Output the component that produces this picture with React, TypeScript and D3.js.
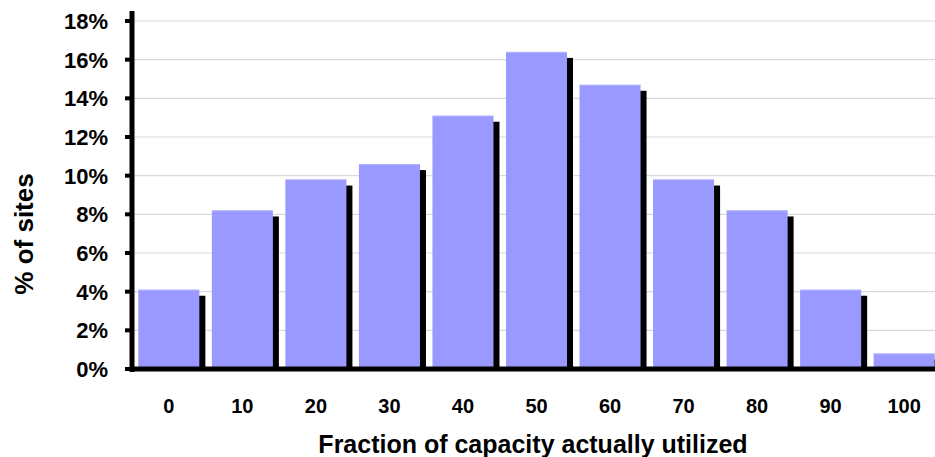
import React, { useRef, useEffect } from 'react';
import * as d3 from 'd3';

// Distribution of sites by fraction of capacity used
const buckets: string[] = ['0', '10', '20', '30', '40', '50', '60', '70', '80', '90', '100'];
const sitePercent: number[] = [4.1, 8.2, 9.8, 10.6, 13.1, 16.4, 14.7, 9.8, 8.2, 4.1, 0.8];
const yTicks: number[] = [0, 2, 4, 6, 8, 10, 12, 14, 16, 18];

const width = 935;
const height = 457;
const margin = { top: 21, right: -6, bottom: 88, left: 132 };
const FONT = '"Liberation Sans", Arial, Helvetica, sans-serif';

const Chart: React.FC = () => {
	const chartRef = useRef<null | SVGSVGElement>(null);

	useEffect(() => {
		if (!chartRef.current) {
			return;
		}
		const root = d3.select(chartRef.current);
		root.selectAll('*').remove();

		const plotBottom = height - margin.bottom;
		const x = d3.scaleBand<string>()
			.domain(buckets)
			.range([margin.left, width - margin.right])
			.paddingInner(0.17)
			.paddingOuter(0.086);
		const y = d3.scaleLinear().domain([0, 18]).range([plotBottom, margin.top]);

		// gridlines
		root.append('g')
			.selectAll('line')
			.data(yTicks.filter(d => d > 0))
			.join('line')
			.attr('x1', margin.left)
			.attr('x2', width)
			.attr('y1', d => y(d))
			.attr('y2', d => y(d))
			.attr('stroke', '#d9d9d9')
			.attr('stroke-width', 1.2);

		const data = buckets.map((b, i) => ({ b, v: sitePercent[i] }));

		// shadows
		root.append('g')
			.selectAll('rect')
			.data(data)
			.join('rect')
			.attr('x', d => x(d.b)! + 6)
			.attr('y', d => y(d.v) + 6)
			.attr('width', x.bandwidth())
			.attr('height', d => Math.max(0, plotBottom - y(d.v) - 6))
			.attr('fill', '#000');

		// bars
		root.append('g')
			.selectAll('rect')
			.data(data)
			.join('rect')
			.attr('x', d => x(d.b)!)
			.attr('y', d => y(d.v))
			.attr('width', x.bandwidth())
			.attr('height', d => plotBottom - y(d.v))
			.attr('fill', '#9999ff');

		// bar top highlight
		root.append('g')
			.selectAll('line')
			.data(data)
			.join('line')
			.attr('x1', d => x(d.b)!)
			.attr('x2', d => x(d.b)! + x.bandwidth())
			.attr('y1', d => y(d.v) + 0.5)
			.attr('y2', d => y(d.v) + 0.5)
			.attr('stroke', '#b3b3ff')
			.attr('stroke-width', 1);

		// y axis
		const yAxis = root.append('g');
		yAxis.append('line')
			.attr('x1', margin.left)
			.attr('x2', margin.left)
			.attr('y1', 11)
			.attr('y2', plotBottom + 3)
			.attr('stroke', '#000')
			.attr('stroke-width', 5);
		yAxis.selectAll('line.tick')
			.data(yTicks)
			.join('line')
			.attr('class', 'tick')
			.attr('x1', margin.left - 7)
			.attr('x2', margin.left)
			.attr('y1', d => y(d))
			.attr('y2', d => y(d))
			.attr('stroke', '#000')
			.attr('stroke-width', 4);
		yAxis.selectAll('text')
			.data(yTicks)
			.join('text')
			.attr('x', 108)
			.attr('y', d => y(d) + 8)
			.attr('text-anchor', 'end')
			.style('font-family', FONT)
			.style('font-weight', 'bold')
			.style('font-size', '22px')
			.text(d => `${d}%`);

		// x axis
		root.append('line')
			.attr('x1', margin.left - 2)
			.attr('x2', width)
			.attr('y1', plotBottom)
			.attr('y2', plotBottom)
			.attr('stroke', '#000')
			.attr('stroke-width', 5);
		root.append('g')
			.selectAll('text')
			.data(buckets)
			.join('text')
			.attr('x', d => x(d)! + x.bandwidth() / 2)
			.attr('y', 413)
			.attr('text-anchor', 'middle')
			.style('font-family', FONT)
			.style('font-weight', 'bold')
			.style('font-size', '20px')
			.text(d => d);

		// axis titles
		root.append('text')
			.attr('x', 533)
			.attr('y', 453)
			.attr('text-anchor', 'middle')
			.style('font-family', FONT)
			.style('font-weight', 'bold')
			.style('font-size', '25px')
			.text('Fraction of capacity actually utilized');
		root.append('text')
			.attr('transform', 'translate(33, 234) rotate(-90)')
			.attr('text-anchor', 'middle')
			.style('font-family', FONT)
			.style('font-weight', 'bold')
			.style('font-size', '26px')
			.text('% of sites');
	}, []);

	return (
		<svg
			ref={chartRef}
			width={width}
			height={height}
			style={{ position: 'absolute', left: 0, top: 0, background: '#fff' }}
		/>
	);
};

export default function App() {
	return <Chart />;
}
